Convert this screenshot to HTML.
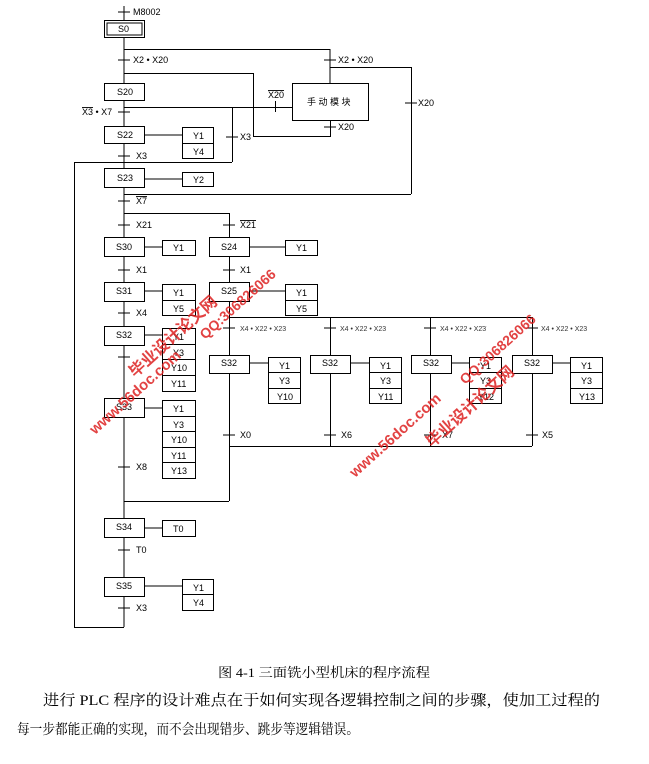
<!DOCTYPE html>
<html><head><meta charset="utf-8"><style>
html,body{margin:0;padding:0;background:#fff;width:649px;height:764px;overflow:hidden}
svg{display:block}
.t{font-family:"Liberation Sans","Noto Sans CJK SC",sans-serif;font-size:9px;fill:#000}
.s{font-size:7px;fill:#333}
.b{font-family:"Liberation Serif","Noto Serif CJK SC","Noto Sans CJK SC",serif;fill:#000}
.wm{font-family:"Liberation Sans","Noto Sans CJK SC",sans-serif;font-weight:bold;fill:#d22;opacity:.85}
</style></head><body>
<svg width="649" height="764" viewBox="0 0 649 764" xmlns="http://www.w3.org/2000/svg">
<g stroke="#000" stroke-width="1" fill="none">
<!-- main column -->
<line x1="124" y1="6" x2="124" y2="20"/>
<line x1="118" y1="12" x2="130" y2="12"/>
<rect x="104.5" y="20.5" width="40" height="17" fill="#fff"/>
<rect x="107" y="23" width="35" height="12"/>
<line x1="124" y1="38" x2="124" y2="83"/>
<line x1="118" y1="60" x2="130" y2="60"/>
<line x1="124" y1="49.5" x2="330" y2="49.5"/>
<line x1="330" y1="49" x2="330" y2="83"/>
<line x1="324" y1="60" x2="336" y2="60"/>
<line x1="330" y1="67.5" x2="411" y2="67.5"/>
<line x1="411.5" y1="67" x2="411.5" y2="194"/>
<line x1="405" y1="103" x2="417" y2="103"/>
<line x1="124" y1="194.5" x2="411" y2="194.5"/>
<line x1="124" y1="73.5" x2="253" y2="73.5"/>
<line x1="253.5" y1="73" x2="253.5" y2="136"/>
<line x1="253" y1="136.5" x2="330" y2="136.5"/>
<line x1="330.5" y1="120" x2="330.5" y2="137"/>
<line x1="324" y1="127" x2="336" y2="127"/>
<rect x="292.5" y="83.5" width="76" height="37" fill="#fff"/>
<rect x="104.5" y="83.5" width="40" height="17" fill="#fff"/>
<line x1="124" y1="100" x2="124" y2="126"/>
<line x1="124" y1="107.5" x2="292" y2="107.5"/>
<line x1="275.5" y1="101" x2="275.5" y2="112"/>
<line x1="118" y1="112" x2="130" y2="112"/>
<line x1="232.5" y1="107" x2="232.5" y2="162"/>
<line x1="226" y1="137" x2="238" y2="137"/>
<line x1="74" y1="162.5" x2="232" y2="162.5"/>
<line x1="74.5" y1="162" x2="74.5" y2="627"/>
<rect x="104.5" y="126.5" width="40" height="17" fill="#fff"/>
<line x1="145" y1="135" x2="182" y2="135"/>
<rect x="182.5" y="127.5" width="31" height="31"/><line x1="182" y1="143.5" x2="213" y2="143.5"/>
<line x1="124" y1="144" x2="124" y2="168"/>
<line x1="118" y1="156" x2="130" y2="156"/>
<rect x="104.5" y="168.5" width="40" height="19" fill="#fff"/>
<line x1="145" y1="179" x2="182" y2="179"/>
<rect x="182.5" y="172.5" width="31" height="14"/>
<line x1="124" y1="188" x2="124" y2="237"/>
<line x1="118" y1="201" x2="130" y2="201"/>
<line x1="124" y1="213.5" x2="229" y2="213.5"/>
<line x1="229.5" y1="213" x2="229.5" y2="237"/>
<line x1="118" y1="225" x2="130" y2="225"/><line x1="223" y1="225" x2="235" y2="225"/>
<!-- S30 / S24 -->
<rect x="104.5" y="237.5" width="40" height="19" fill="#fff"/>
<line x1="145" y1="247" x2="162" y2="247"/><rect x="162.5" y="240.5" width="33" height="15"/>
<rect x="209.5" y="237.5" width="40" height="19" fill="#fff"/>
<line x1="250" y1="247" x2="285" y2="247"/><rect x="285.5" y="240.5" width="32" height="15"/>
<line x1="124" y1="257" x2="124" y2="282"/><line x1="229.5" y1="257" x2="229.5" y2="282"/>
<line x1="118" y1="270" x2="130" y2="270"/><line x1="223" y1="270" x2="235" y2="270"/>
<!-- S31 / S25 -->
<rect x="104.5" y="282.5" width="40" height="19" fill="#fff"/>
<line x1="145" y1="291" x2="162" y2="291"/><rect x="162.5" y="284.5" width="33" height="31"/><line x1="162" y1="300.5" x2="195" y2="300.5"/>
<rect x="209.5" y="282.5" width="40" height="19" fill="#fff"/>
<line x1="250" y1="291" x2="285" y2="291"/><rect x="285.5" y="284.5" width="32" height="31"/><line x1="285" y1="300.5" x2="317" y2="300.5"/>
<line x1="124" y1="301" x2="124" y2="326"/>
<line x1="118" y1="313" x2="130" y2="313"/>
<!-- S32 left -->
<rect x="104.5" y="326.5" width="40" height="19" fill="#fff"/>
<line x1="145" y1="335" x2="162" y2="335"/>
<rect x="162.5" y="328.5" width="33" height="63"/>
<line x1="162" y1="344.5" x2="195" y2="344.5"/><line x1="162" y1="359.5" x2="195" y2="359.5"/><line x1="162" y1="375.5" x2="195" y2="375.5"/>
<line x1="124" y1="345" x2="124" y2="398"/>
<line x1="118" y1="357" x2="130" y2="357"/>
<rect x="104.5" y="398.5" width="40" height="19" fill="#fff"/>
<line x1="145" y1="408" x2="162" y2="408"/>
<rect x="162.5" y="400.5" width="33" height="78"/>
<line x1="162" y1="416.5" x2="195" y2="416.5"/><line x1="162" y1="431.5" x2="195" y2="431.5"/><line x1="162" y1="447.5" x2="195" y2="447.5"/><line x1="162" y1="462.5" x2="195" y2="462.5"/>
<line x1="124" y1="417" x2="124" y2="518"/>
<line x1="118" y1="467" x2="130" y2="467"/>
<!-- right branches -->
<line x1="229.5" y1="301" x2="229.5" y2="501"/>
<line x1="229" y1="317.5" x2="532" y2="317.5"/>
<line x1="330.5" y1="317" x2="330.5" y2="446"/>
<line x1="430.5" y1="317" x2="430.5" y2="446"/>
<line x1="532.5" y1="317" x2="532.5" y2="446"/>
<line x1="229" y1="446.5" x2="532" y2="446.5"/>
<line x1="124" y1="501.5" x2="229" y2="501.5"/>
<line x1="223" y1="328" x2="235" y2="328"/><line x1="324" y1="328" x2="336" y2="328"/><line x1="424" y1="328" x2="436" y2="328"/><line x1="526" y1="328" x2="538" y2="328"/>
<line x1="223" y1="435" x2="235" y2="435"/><line x1="324" y1="435" x2="336" y2="435"/><line x1="424" y1="435" x2="436" y2="435"/><line x1="526" y1="435" x2="538" y2="435"/>
<rect x="209.5" y="355.5" width="40" height="18" fill="#fff"/>
<rect x="310.5" y="355.5" width="40" height="18" fill="#fff"/>
<rect x="411.5" y="355.5" width="40" height="18" fill="#fff"/>
<rect x="512.5" y="355.5" width="40" height="18" fill="#fff"/>
<line x1="250" y1="363" x2="268" y2="363"/><line x1="351" y1="363" x2="369" y2="363"/><line x1="452" y1="363" x2="469" y2="363"/><line x1="553" y1="363" x2="570" y2="363"/>
<rect x="268.5" y="357.5" width="32" height="46"/><line x1="268" y1="372.5" x2="300" y2="372.5"/><line x1="268" y1="388.5" x2="300" y2="388.5"/>
<rect x="369.5" y="357.5" width="32" height="46"/><line x1="369" y1="372.5" x2="401" y2="372.5"/><line x1="369" y1="388.5" x2="401" y2="388.5"/>
<rect x="469.5" y="357.5" width="32" height="46"/><line x1="469" y1="372.5" x2="501" y2="372.5"/><line x1="469" y1="388.5" x2="501" y2="388.5"/>
<rect x="570.5" y="357.5" width="32" height="46"/><line x1="570" y1="372.5" x2="602" y2="372.5"/><line x1="570" y1="388.5" x2="602" y2="388.5"/>
<!-- S34 S35 -->
<rect x="104.5" y="518.5" width="40" height="19" fill="#fff"/>
<line x1="145" y1="528" x2="162" y2="528"/><rect x="162.5" y="520.5" width="33" height="16"/>
<line x1="124" y1="537" x2="124" y2="577"/>
<line x1="118" y1="550" x2="130" y2="550"/>
<rect x="104.5" y="577.5" width="40" height="19" fill="#fff"/>
<line x1="145" y1="586" x2="182" y2="586"/><rect x="182.5" y="579.5" width="31" height="31"/><line x1="182" y1="594.5" x2="213" y2="594.5"/>
<line x1="124" y1="596" x2="124" y2="627"/>
<line x1="118" y1="608" x2="130" y2="608"/>
<line x1="74" y1="627.5" x2="124" y2="627.5"/>
</g>
<g class="t">
<text x="133" y="15">M8002</text>
<text x="118" y="32">S0</text>
<text x="133" y="63">X2 • X20</text>
<text x="338" y="63">X2 • X20</text>
<text x="418" y="106">X20</text>
<text x="117" y="95">S20</text>
<text x="268" y="98" text-decoration="overline">X20</text>
<text x="307" y="105">手 动 模 块</text>
<text x="338" y="130">X20</text>
<text x="82" y="115"><tspan text-decoration="overline">X3</tspan> • X7</text>
<text x="117" y="138">S22</text>
<text x="193" y="139">Y1</text><text x="193" y="155">Y4</text>
<text x="240" y="140">X3</text>
<text x="136" y="159">X3</text>
<text x="117" y="181">S23</text>
<text x="193" y="183">Y2</text>
<text x="136" y="204" text-decoration="overline">X7</text>
<text x="136" y="228">X21</text>
<text x="240" y="228" text-decoration="overline">X21</text>
<text x="116" y="250">S30</text><text x="173" y="251">Y1</text>
<text x="221" y="250">S24</text><text x="296" y="251">Y1</text>
<text x="136" y="273">X1</text><text x="240" y="273">X1</text>
<text x="116" y="294">S31</text><text x="173" y="296">Y1</text><text x="173" y="312">Y5</text>
<text x="221" y="294">S25</text><text x="296" y="296">Y1</text><text x="296" y="312">Y5</text>
<text x="136" y="316">X4</text>
<text x="116" y="338">S32</text>
<text x="173" y="340">Y1</text><text x="173" y="356">Y3</text><text x="171" y="371">Y10</text><text x="171" y="387">Y11</text>
<text x="116" y="410">S33</text>
<text x="173" y="412">Y1</text><text x="173" y="428">Y3</text><text x="171" y="443">Y10</text><text x="171" y="459">Y11</text><text x="171" y="474">Y13</text>
<text x="136" y="470">X8</text>
<text x="240" y="438">X0</text><text x="341" y="438">X6</text><text x="442" y="438">X7</text><text x="542" y="438">X5</text>
<text x="221" y="366">S32</text><text x="322" y="366">S32</text><text x="423" y="366">S32</text><text x="524" y="366">S32</text>
<text x="279" y="369">Y1</text><text x="279" y="384">Y3</text><text x="277" y="400">Y10</text>
<text x="380" y="369">Y1</text><text x="380" y="384">Y3</text><text x="378" y="400">Y11</text>
<text x="480" y="369">Y1</text><text x="480" y="384">Y3</text><text x="478" y="400">Y12</text>
<text x="581" y="369">Y1</text><text x="581" y="384">Y3</text><text x="579" y="400">Y13</text>
<text x="116" y="530">S34</text><text x="173" y="532">T0</text>
<text x="136" y="553">T0</text>
<text x="116" y="589">S35</text><text x="193" y="591">Y1</text><text x="193" y="606">Y4</text>
<text x="136" y="611">X3</text>
</g>
<g class="t s">
<text x="240" y="331">X4 • <tspan text-decoration="overline">X22</tspan> • X23</text>
<text x="340" y="331">X4 • <tspan text-decoration="overline">X22</tspan> • X23</text>
<text x="440" y="331">X4 • X22 • <tspan text-decoration="overline">X23</tspan></text>
<text x="541" y="331">X4 • X22 • X23</text>
</g>
<g class="wm">
<text font-size="15" transform="translate(95,435) rotate(-42)">www.56doc.com</text>
<text font-size="16" transform="translate(135,378) rotate(-42)">毕业设计论文网</text>
<text font-size="14" transform="translate(205,340) rotate(-42)">QQ:306826066</text>
<text font-size="15" transform="translate(355,478) rotate(-42)">www.56doc.com</text>
<text font-size="16" transform="translate(432,448) rotate(-42)">毕业设计论文网</text>
<text font-size="14" transform="translate(465,385) rotate(-42)">QQ:306826066</text>
</g>
<text class="b" x="218" y="677" font-size="13" textLength="212" lengthAdjust="spacingAndGlyphs">图 4-1  三面铣小型机床的程序流程</text>
<text class="b" x="43" y="705" font-size="15" textLength="557" lengthAdjust="spacingAndGlyphs">进行 PLC 程序的设计难点在于如何实现各逻辑控制之间的步骤，使加工过程的</text>
<text class="b" x="17" y="734" font-size="14" textLength="342" lengthAdjust="spacingAndGlyphs">每一步都能正确的实现，而不会出现错步、跳步等逻辑错误。</text>
</svg>
</body></html>
